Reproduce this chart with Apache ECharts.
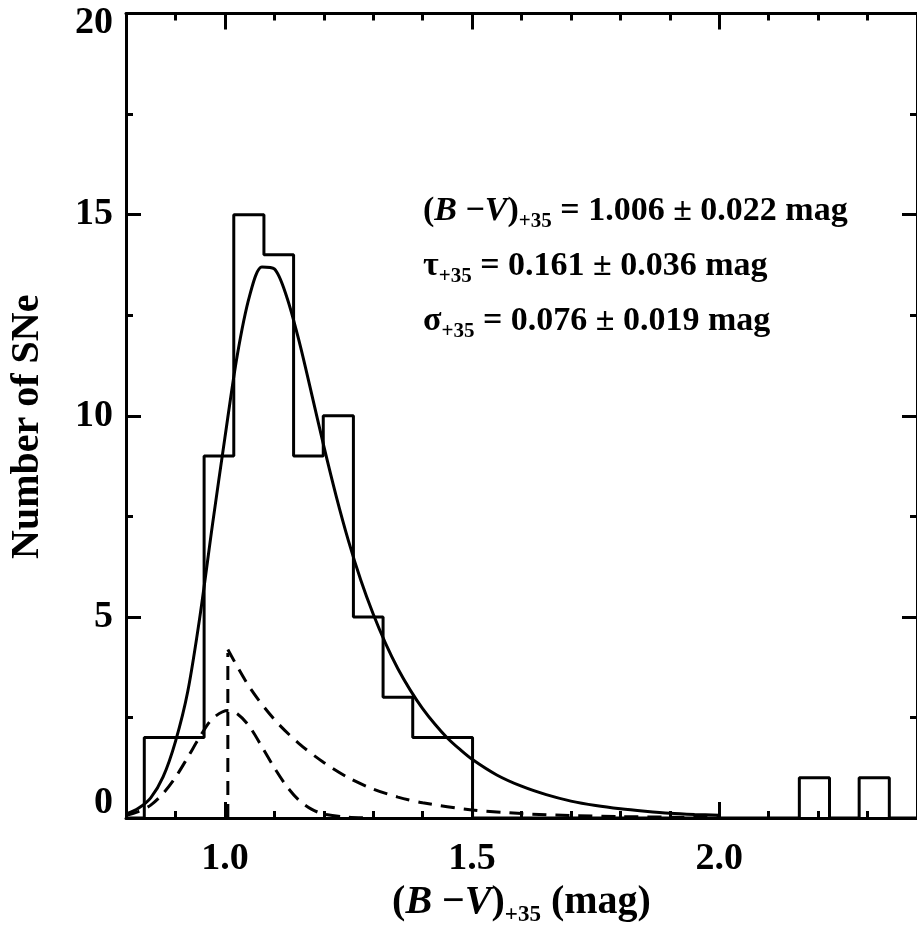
<!DOCTYPE html>
<html><head><meta charset="utf-8">
<script src="https://cdn.jsdelivr.net/npm/echarts@6/dist/echarts.min.js"></script>
<style>html,body{margin:0;padding:0;background:#fff}#c{width:917px;height:932px}</style>
</head><body><div id="c"></div>
<script>
// Histogram (variable-width edges; zero-count gaps merged)
const binEdges  = [0.837, 0.897, 0.958, 1.018, 1.079, 1.139, 1.199, 1.260, 1.320, 1.380, 1.441, 1.501, 2.162, 2.223, 2.283, 2.344];
const binCounts = [2, 2, 9, 15, 14, 9, 10, 5, 3, 2, 2, 0, 1, 0, 1];

// Solid fitted curve
const fitX = [0.80, 0.825, 0.85, 0.875, 0.90, 0.925, 0.95, 0.975, 1.00, 1.025, 1.05, 1.075, 1.10, 1.125, 1.15, 1.175, 1.20, 1.225, 1.25, 1.275, 1.30, 1.325, 1.35, 1.375, 1.40, 1.425, 1.45, 1.475, 1.50, 1.55, 1.60, 1.65, 1.70, 1.75, 1.80, 1.85, 1.90, 1.95, 2.00];
const fitY = [0.10, 0.24, 0.50, 1.02, 1.90, 3.15, 5.05, 7.30, 9.45, 11.50, 12.98, 13.70, 13.65, 12.96, 11.86, 10.57, 9.25, 8.01, 6.89, 5.91, 5.07, 4.34, 3.71, 3.18, 2.72, 2.33, 1.99, 1.71, 1.46, 1.07, 0.79, 0.58, 0.42, 0.31, 0.23, 0.17, 0.12, 0.09, 0.07];

// Lower dashed (Gaussian) component
const gaussX = [0.80, 0.825, 0.85, 0.875, 0.90, 0.925, 0.95, 0.975, 1.006, 1.025, 1.05, 1.075, 1.10, 1.125, 1.15, 1.175, 1.20, 1.25, 1.30];
const gaussY = [0.07, 0.16, 0.32, 0.61, 1.01, 1.51, 2.03, 2.47, 2.67, 2.59, 2.27, 1.77, 1.25, 0.79, 0.44, 0.22, 0.10, 0.02, 0.0];

// Upper dashed (exponential) component
const expX = [1.006, 1.05, 1.10, 1.15, 1.20, 1.25, 1.30, 1.35, 1.40, 1.50, 1.60, 1.70, 1.80, 1.90, 2.00];
const expY = [4.19, 3.25, 2.45, 1.85, 1.38, 1.00, 0.72, 0.52, 0.38, 0.20, 0.11, 0.06, 0.035, 0.02, 0.01];

// Vertical dashed line at the peak colour
const peakX = [1.006, 1.006];
const peakY = [0, 4.10];

// Ticks
const xMajorTicks = [1.0, 1.5, 2.0];
const xMinorTicks = [0.9, 1.0, 1.1, 1.2, 1.3, 1.4, 1.5, 1.6, 1.7, 1.8, 1.9, 2.0, 2.1, 2.2, 2.3];
const yMajorTicks = [0, 5, 10, 15, 20];
const yMinorTicks = [2.5, 7.5, 12.5, 17.5];

const FF = "'Liberation Serif','Times New Roman',serif";
const BLACK = '#000';

const histData = [[0.8, 0]];
for (let i = 0; i < binCounts.length; i++) histData.push([binEdges[i], binCounts[i]]);
histData.push([binEdges[binEdges.length - 1], 0]);
histData.push([2.4, 0]);

const zip = (a, b) => a.map((v, i) => [v, b[i]]);

function xAx(pos, major, withLine, extra) {
  return Object.assign({
    type: 'value', min: 0.8, max: 2.4, position: pos,
    splitLine: { show: false },
    axisLine: { show: withLine, onZero: false, lineStyle: { color: BLACK, width: 3 } },
    axisTick: { show: true, inside: true, length: major ? 16 : 7, customValues: major ? xMajorTicks : xMinorTicks, lineStyle: { color: BLACK, width: 3 } },
    axisLabel: { show: false }
  }, extra || {});
}
function yAx(pos, major, withLine, extra) {
  return Object.assign({
    type: 'value', min: 0, max: 20, position: pos,
    splitLine: { show: false },
    axisLine: { show: withLine, onZero: false, lineStyle: { color: BLACK, width: 3 } },
    axisTick: { show: true, inside: true, length: major ? 15 : 7, customValues: major ? yMajorTicks : yMinorTicks, lineStyle: { color: BLACK, width: 3 } },
    axisLabel: { show: false }
  }, extra || {});
}

const mainRich = {
  n: { fontFamily: FF, fontWeight: 'bold', fontSize: 40, color: BLACK, lineHeight: 48 },
  i: { fontFamily: FF, fontWeight: 'bold', fontStyle: 'italic', fontSize: 40, color: BLACK, lineHeight: 48 },
  s: { fontFamily: FF, fontWeight: 'bold', fontSize: 23, color: BLACK, lineHeight: 23, verticalAlign: 'bottom' }
};
const annRich = {
  n: { fontFamily: FF, fontWeight: 'bold', fontSize: 34, color: BLACK, lineHeight: 42 },
  i: { fontFamily: FF, fontWeight: 'bold', fontStyle: 'italic', fontSize: 34, color: BLACK, lineHeight: 42 },
  s: { fontFamily: FF, fontWeight: 'bold', fontSize: 21, color: BLACK, lineHeight: 21, verticalAlign: 'bottom' }
};

const chart = echarts.init(document.getElementById('c'), null, { renderer: 'canvas' });
chart.setOption({
  animation: false,
  backgroundColor: '#fff',
  grid: { left: 126, right: -2, top: 13.5, bottom: 107, containLabel: false },
  title: [
    { left: 423, top: 190, padding: 0, text: '{n|(}{i|B}{n| −}{i|V}{n|)}{s|+35}{n| = 1.006 ± 0.022 mag}', textStyle: { rich: annRich } },
    { left: 423, top: 245, padding: 0, text: '{n|τ}{s|+35}{n| = 0.161 ± 0.036 mag}', textStyle: { rich: annRich } },
    { left: 423, top: 300, padding: 0, text: '{n|σ}{s|+35}{n| = 0.076 ± 0.019 mag}', textStyle: { rich: annRich } }
  ],
  xAxis: [
    xAx('bottom', true, true, {
      axisLabel: { show: true, customValues: xMajorTicks, formatter: v => Number(v).toFixed(1), margin: 22,
        fontFamily: FF, fontWeight: 'bold', fontSize: 38, color: BLACK },
      name: '{n|(}{i|B}{n| −}{i|V}{n|)}{s|+35}{n| (mag)}', nameLocation: 'middle', nameGap: 61,
      nameTextStyle: { rich: mainRich }
    }),
    xAx('bottom', false, false),
    xAx('top', true, true),
    xAx('top', false, false)
  ],
  yAxis: [
    yAx('left', true, true, {
      axisLabel: { show: true, customValues: yMajorTicks, margin: 13,
        fontFamily: FF, fontWeight: 'bold', fontSize: 38, color: BLACK,
        formatter: v => v === 20 ? '{t|20}' : (v === 0 ? '{b|0}' : String(v)),
        rich: {
          t: { fontFamily: FF, fontWeight: 'bold', fontSize: 38, color: BLACK, padding: [19, 0, 0, 0] },
          b: { fontFamily: FF, fontWeight: 'bold', fontSize: 38, color: BLACK, padding: [0, 0, 30, 0] }
        } },
      name: 'Number of SNe', nameLocation: 'middle', nameRotate: 90, nameGap: 78,
      nameTextStyle: { fontFamily: FF, fontWeight: 'bold', fontSize: 40, color: BLACK, padding: [0, 22, 0, 0] }
    }),
    yAx('left', false, false),
    yAx('right', true, true),
    yAx('right', false, false)
  ],
  series: [
    { type: 'line', step: 'end', data: histData, symbol: 'none', lineStyle: { color: BLACK, width: 3 }, z: 3 },
    { type: 'line', smooth: 0.3, data: zip(fitX, fitY), symbol: 'none', lineStyle: { color: BLACK, width: 3 }, z: 4 },
    { type: 'line', smooth: 0.3, data: zip(gaussX, gaussY), symbol: 'none', lineStyle: { color: BLACK, width: 3, type: [14, 9] }, z: 4 },
    { type: 'line', smooth: 0.3, data: zip(expX, expY), symbol: 'none', lineStyle: { color: BLACK, width: 3, type: [14, 9] }, z: 4 },
    { type: 'line', data: zip(peakX, peakY), symbol: 'none', lineStyle: { color: BLACK, width: 3, type: [14, 9] }, z: 4 }
  ]
});
</script>
</body></html>
